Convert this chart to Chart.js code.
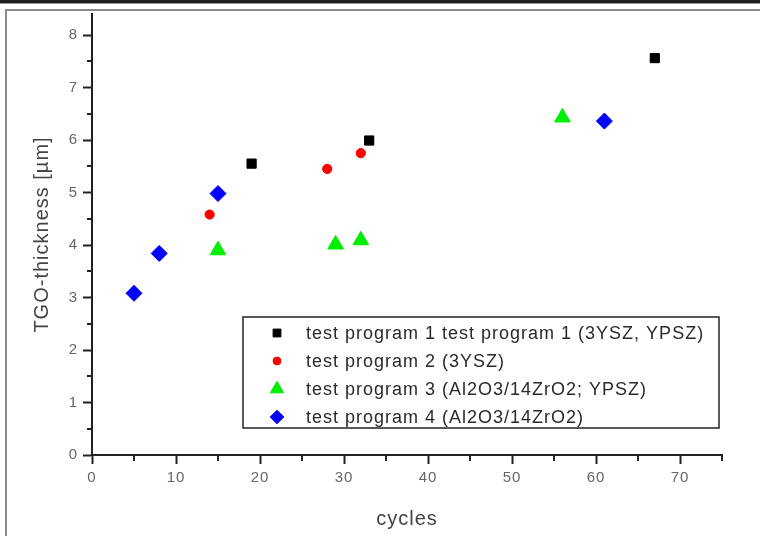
<!DOCTYPE html>
<html>
<head>
<meta charset="utf-8">
<script src="https://cdn.jsdelivr.net/npm/chart.js@4.4.0/dist/chart.umd.min.js"></script>
<style>
  body { margin: 0; background: #fff; }
  #wrap { width: 760px; height: 536px; }
</style>
</head>
<body>
<div id="wrap"><canvas id="myChart" width="760" height="536"></canvas></div>
<script>
// TGO thickness vs. number of cycles, four test programs
const seriesNames = [
  'test program 1 test program 1 (3YSZ, YPSZ)',
  'test program 2 (3YSZ)',
  'test program 3 (Al2O3/14ZrO2; YPSZ)',
  'test program 4 (Al2O3/14ZrO2)'
]
const cycles1 = [19, 33, 67]
const thick1 = [5.55, 5.99, 7.56]
const cycles2 = [14, 28, 32]
const thick2 = [4.58, 5.45, 5.75]
const cycles3 = [15, 29, 32, 56]
const thick3 = [3.90, 4.01, 4.09, 6.43]
const cycles4 = [5, 8, 15, 61]
const thick4 = [3.08, 3.84, 4.98, 6.36]

const xTicks = [0, 10, 20, 30, 40, 50, 60, 70]
const yTicks = [0, 1, 2, 3, 4, 5, 6, 7, 8]
const xMinor = [5, 15, 25, 35, 45, 55, 65, 75]
const yMinor = [0.5, 1.5, 2.5, 3.5, 4.5, 5.5, 6.5, 7.5]

const toPoints = (xs, ys) => xs.map((x, i) => ({x: x, y: ys[i]}))

const styles = [
  {pointStyle: 'rect', pointRadius: 6.5, color: '#000000'},
  {pointStyle: 'circle', pointRadius: 4.6, color: '#ff0000'},
  {pointStyle: 'triangle', pointRadius: 9, color: '#00ee00'},
  {pointStyle: 'rectRot', pointRadius: 8, color: '#0000ff'}
]
const allData = [
  toPoints(cycles1, thick1),
  toPoints(cycles2, thick2),
  toPoints(cycles3, thick3),
  toPoints(cycles4, thick4)
]

const datasets = allData.map((d, i) => ({
  label: seriesNames[i],
  data: d,
  showLine: false,
  pointStyle: styles[i].pointStyle,
  pointRadius: styles[i].pointRadius,
  pointHoverRadius: styles[i].pointRadius,
  pointBackgroundColor: styles[i].color,
  pointBorderColor: styles[i].color,
  pointBorderWidth: 1,
  clip: false
}))

// page frame + text spacing
const framePlugin = {
  id: 'frame',
  beforeDraw(chart) {
    const ctx = chart.ctx
    ctx.save()
    ctx.fillStyle = '#ffffff'
    ctx.fillRect(0, 0, chart.width, chart.height)
    ctx.fillStyle = '#1e1e1e'
    ctx.fillRect(0, 0, chart.width, 3)
    ctx.fillStyle = '#9a9a9a'
    ctx.fillRect(0, 3, chart.width, 1)
    ctx.fillStyle = '#8a8a8a'
    ctx.fillRect(5, 9, chart.width - 5, 2)
    ctx.fillRect(5, 9, 2, chart.height - 9)
    ctx.restore()
    ctx.letterSpacing = '1px'
  }
}

// half-step tick marks and the boxed legend
const extrasPlugin = {
  id: 'extras',
  afterDraw(chart) {
    const ctx = chart.ctx
    const xs = chart.scales.x
    const ys = chart.scales.y
    const area = chart.chartArea
    ctx.save()
    ctx.strokeStyle = '#222'
    ctx.lineWidth = 2
    ctx.beginPath()
    xMinor.forEach(v => {
      const px = Math.round(xs.getPixelForValue(v))
      ctx.moveTo(px, area.bottom)
      ctx.lineTo(px, area.bottom + 6)
    })
    yMinor.forEach(v => {
      const py = Math.round(ys.getPixelForValue(v))
      ctx.moveTo(area.left, py)
      ctx.lineTo(area.left - 5, py)
    })
    ctx.stroke()

    // legend box
    const bx = 243, by = 317, bw = 476, bh = 111
    ctx.fillStyle = '#fff'
    ctx.fillRect(bx, by, bw, bh)
    ctx.strokeStyle = '#222'
    ctx.lineWidth = 1.5
    ctx.strokeRect(bx, by, bw, bh)

    const rowY = [333, 361, 389, 417]
    ctx.font = '18px "Liberation Sans", Arial, sans-serif'
    ctx.letterSpacing = '1px'
    ctx.textBaseline = 'middle'
    ctx.textAlign = 'left'
    seriesNames.forEach((name, i) => {
      const st = styles[i]
      ctx.fillStyle = st.color
      ctx.strokeStyle = st.color
      ctx.lineWidth = 1
      Chart.helpers.drawPoint(ctx, {
        pointStyle: st.pointStyle,
        radius: st.pointRadius * 0.85,
        rotation: 0,
        borderWidth: 1
      }, 277, rowY[i])
      ctx.fillStyle = '#2a2a2a'
      ctx.fillText(name, 306, rowY[i] + 1)
    })
    ctx.restore()
  }
}

const config = {
  type: 'scatter',
  data: { datasets: datasets },
  options: {
    responsive: false,
    animation: false,
    events: [],
    layout: { padding: { top: 12, right: 38, left: 0, bottom: 0 } },
    plugins: {
      legend: { display: false },
      tooltip: { enabled: false }
    },
    scales: {
      x: {
        type: 'linear',
        min: 0,
        max: 75,
        afterFit(scale) { scale.height = 81 },
        afterBuildTicks(scale) { scale.ticks = xTicks.map(v => ({value: v})) },
        border: { display: true, color: '#222', width: 2 },
        grid: { drawOnChartArea: false, drawTicks: true, tickLength: 9, tickColor: '#222', tickWidth: 2 },
        ticks: {
          color: '#666',
          padding: 5,
          maxRotation: 0,
          font: { family: '"Liberation Sans", Arial, sans-serif', size: 15 }
        },
        title: {
          display: true,
          text: 'cycles',
          color: '#444',
          padding: { top: 0, bottom: 5 },
          font: { family: '"Liberation Sans", Arial, sans-serif', size: 20 }
        }
      },
      y: {
        type: 'linear',
        min: 0,
        max: 8.4,
        afterFit(scale) { scale.width = 92 },
        afterBuildTicks(scale) { scale.ticks = yTicks.map(v => ({value: v})) },
        border: { display: true, color: '#222', width: 2 },
        grid: { drawOnChartArea: false, drawTicks: true, tickLength: 9, tickColor: '#222', tickWidth: 2 },
        ticks: {
          color: '#666',
          padding: 5,
          font: { family: '"Liberation Sans", Arial, sans-serif', size: 15 }
        },
        title: {
          display: true,
          text: 'TGO-thickness [µm]',
          color: '#444',
          padding: { top: 30, bottom: 0 },
          font: { family: '"Liberation Sans", Arial, sans-serif', size: 20 }
        }
      }
    }
  },
  plugins: [framePlugin, extrasPlugin]
}

new Chart(document.getElementById('myChart'), config)
</script>
</body>
</html>
